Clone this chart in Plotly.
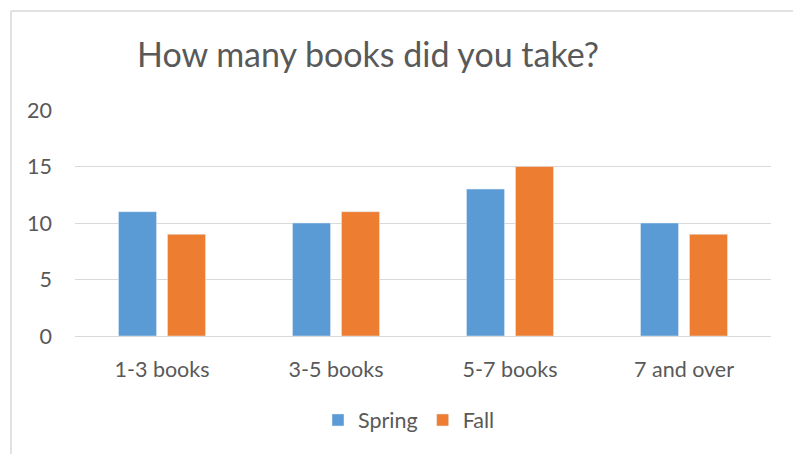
import plotly.graph_objects as go

categories = ["1-3 books", "3-5 books", "5-7 books", "7 and over"]
spring = [11, 10, 13, 10]
fall = [9, 11, 15, 9]
y_ticks = [0, 5, 10, 15, 20]

W, H = 793, 454
L, R, T, B = 75, 22, 110, 118
pw, ph = W - L - R, H - T - B

def px(x):
    return (x - L) / pw

def py(y):
    return (H - B - y) / ph

FONT = "Lato"
GREY = "#595959"
FS = 21.5

fig = go.Figure()
fig.add_trace(go.Bar(name="Spring", x=categories, y=spring, marker=dict(color="#5B9BD5")))
fig.add_trace(go.Bar(name="Fall", x=categories, y=fall, marker=dict(color="#ED7D31")))

fig.update_layout(
    width=W, height=H,
    margin=dict(l=L, r=R, t=T, b=B),
    paper_bgcolor="white", plot_bgcolor="white",
    barmode="group", bargap=0.437, bargroupgap=0.224,
    font=dict(family=FONT, color=GREY, size=FS),
    title=dict(text="How many books did you take?", x=px(368), xref="paper", xanchor="center",
               y=1 - 55 / H, yanchor="middle", font=dict(size=34, color=GREY, family=FONT)),
    xaxis=dict(showgrid=False, showline=True, linecolor="#d9d9d9", linewidth=1, ticks="",
               ticklabelstandoff=14,
               tickfont=dict(size=FS, color=GREY), fixedrange=True),
    yaxis=dict(range=[0, 20], tickvals=y_ticks, showgrid=True, gridcolor="#d9d9d9", gridwidth=1,
               zeroline=False, showline=False, ticks="", ticklabelstandoff=22,
               tickfont=dict(size=FS, color=GREY), fixedrange=True),
    legend=dict(orientation="h", x=px(318), xanchor="left", y=py(420), yanchor="middle",
                font=dict(size=FS, color=GREY), itemwidth=30, traceorder="normal"),
    showlegend=True,
)

fig.add_shape(type="line", xref="paper", yref="paper", x0=px(11), x1=px(11), y0=py(11), y1=py(460),
              line=dict(color="#d9d9d9", width=1.5))
fig.add_shape(type="line", xref="paper", yref="paper", x0=px(11), x1=px(800), y0=py(11), y1=py(11),
              line=dict(color="#d9d9d9", width=1.5))

fig.write_html("out.html", config={"displayModeBar": False},
               post_script="document.body.style.margin='0';document.body.style.overflow='hidden';")
